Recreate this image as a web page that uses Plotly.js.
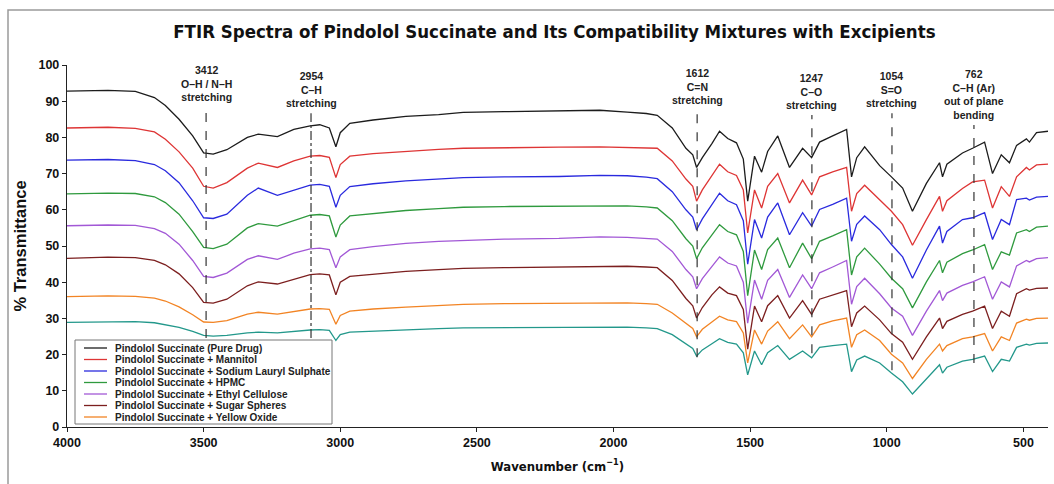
<!DOCTYPE html>
<html>
<head>
<meta charset="utf-8">
<script src="https://cdn.plot.ly/plotly-3.0.1.min.js"></script>
<style>html,body{margin:0;padding:0;background:#fff;}#chart{width:1054px;height:484px;}</style>
</head>
<body>
<div id="chart"></div>
<script>
// ---- data ----
const wavenumber = [4000,3850,3750,3680,3640,3590,3540,3500,3465,3415,3340,3300,3230,3170,3110,3075,3040,3016,3000,2965,2880,2760,2640,2550,2400,2200,2050,1950,1880,1840,1785,1735,1710,1696,1675,1640,1612,1582,1550,1525,1509,1484,1458,1436,1399,1356,1308,1275,1246,1198,1147,1129,1110,1081,1026,983,942,906,855,807,796,780,723,686,642,613,581,551,525,489,478,452,410];

const pureDrug = [92.8,93.0,92.7,91.0,88.8,85.0,80.4,75.7,75.4,76.6,80.0,80.9,80.2,82.2,83.2,83.5,82.6,77.4,81.3,83.9,84.8,85.8,86.3,86.9,87.1,87.3,87.5,87.0,86.6,86.1,82.6,77.0,75.2,71.7,74.4,78.3,81.7,79.7,78.5,74.0,62.4,74.8,70.4,76.1,80.4,71.7,77.0,74.4,78.7,80.4,82.2,69.1,74.4,77.4,72.2,69.1,66.0,59.6,67.3,73.0,69.1,72.6,75.7,77.0,78.7,70.0,75.2,73.0,77.8,79.6,78.7,81.3,81.7];
const mannitol = [82.6,82.8,82.5,81.5,79.5,76.0,71.5,66.5,66.0,67.5,71.5,72.9,71.7,73.5,74.8,75.0,74.5,68.9,72.5,74.8,75.5,76.2,76.7,77.0,77.2,77.3,77.4,77.3,77.1,77.0,73.5,68.5,66.5,62.4,65.5,69.5,72.6,70.5,69.5,65.5,53.6,65.5,60.5,66.5,70.0,61.9,68.2,64.1,69.1,70.5,71.7,59.6,64.5,66.8,62.8,59.6,55.9,50.2,57.3,63.7,59.6,62.5,65.9,67.7,68.2,60.5,66.4,63.7,69.1,71.7,71.0,72.4,72.6];
const sls = [73.7,73.9,73.6,72.5,70.8,67.5,62.5,57.8,57.6,58.8,64.0,66.0,64.0,65.5,66.8,67.0,66.5,60.7,64.0,66.4,67.2,68.0,68.6,68.9,69.1,69.2,69.5,69.4,69.0,68.6,65.0,60.0,58.0,54.5,57.5,61.5,64.6,62.5,61.4,57.0,45.0,57.3,52.2,58.0,61.9,53.1,59.2,55.5,60.1,61.5,63.2,51.3,56.0,58.3,54.5,50.4,47.0,41.1,48.9,55.5,50.8,54.0,57.3,57.8,59.2,51.8,57.3,55.9,62.8,63.2,62.7,63.5,63.7];
const hpmc = [64.4,64.6,64.5,63.6,62.0,58.8,54.0,49.6,49.3,50.5,55.0,56.2,55.5,57.0,58.5,58.7,58.3,52.5,55.8,58.3,59.0,59.8,60.3,60.7,60.9,61.0,61.2,61.1,60.8,60.5,57.0,52.0,50.0,46.5,49.5,53.0,55.9,54.0,53.1,48.5,36.3,48.9,43.5,49.0,52.2,44.0,50.8,46.5,51.3,52.8,54.5,42.0,47.0,49.4,45.0,41.1,38.2,32.9,40.1,46.0,42.6,45.5,47.9,48.9,50.4,43.5,48.4,47.5,53.6,54.5,54.0,55.2,55.5];
const ethylCellulose = [55.6,55.8,55.7,54.8,53.5,50.5,46.0,41.6,41.3,42.5,46.3,47.3,46.3,48.0,49.2,49.4,49.0,44.0,47.0,49.0,49.8,50.7,51.3,51.6,51.9,52.1,52.5,52.4,52.1,51.9,48.5,43.5,41.5,38.2,41.0,44.5,47.0,45.3,44.5,40.0,28.7,40.6,35.3,40.5,43.5,35.8,42.0,38.2,42.6,44.2,46.0,33.9,38.8,41.1,36.8,32.9,30.6,25.3,32.0,37.7,34.9,37.0,39.1,40.1,41.5,35.3,40.1,38.7,44.5,46.0,45.6,46.5,46.8];
const sugarSpheres = [46.6,46.9,46.8,46.0,44.8,42.3,38.5,34.4,34.2,35.3,39.0,40.1,39.5,40.8,42.1,42.3,42.0,36.5,40.0,41.6,42.2,43.0,43.5,43.8,44.0,44.2,44.5,44.4,44.2,44.0,40.5,35.5,33.5,30.1,33.0,36.5,38.7,37.0,36.3,32.5,21.5,33.4,29.1,33.5,36.3,30.1,34.9,31.1,35.3,36.5,37.7,27.7,31.5,33.4,29.6,25.8,23.4,18.7,24.9,30.1,27.2,29.2,31.1,32.0,33.4,27.2,32.0,30.6,36.8,38.2,37.8,38.3,38.4];
const yellowOxide = [36.0,36.2,36.1,35.6,34.8,33.2,31.0,29.0,28.9,29.4,31.2,31.7,31.2,32.0,32.6,32.7,32.5,28.4,30.8,32.0,32.6,33.1,33.6,33.9,34.1,34.2,34.4,34.3,34.1,33.9,31.5,28.5,27.2,24.9,27.0,29.0,30.6,29.6,29.1,26.0,17.7,26.8,22.9,26.5,29.1,24.4,28.2,24.9,28.2,29.3,30.1,22.0,25.5,26.8,23.9,20.1,17.7,13.4,18.7,22.9,21.0,22.5,24.4,24.9,25.8,21.0,24.9,23.9,28.7,29.8,29.5,30.0,30.1];
const eighthSample = [28.9,29.0,29.1,28.8,28.3,27.5,26.4,25.3,25.1,25.3,26.0,26.2,26.0,26.5,26.8,26.9,26.7,23.9,25.5,26.2,26.5,26.9,27.2,27.4,27.5,27.6,27.7,27.6,27.4,27.2,25.5,22.8,21.7,19.6,21.3,23.0,24.4,23.4,22.9,20.5,14.4,21.0,17.2,20.5,22.5,18.7,21.0,19.1,22.0,22.5,22.9,15.3,18.5,19.6,17.7,14.9,12.5,9.1,13.4,17.2,14.9,16.5,18.2,18.7,19.6,15.3,18.7,18.2,22.0,22.9,22.6,23.1,23.2];

const seriesNames = [
  "Pindolol Succinate (Pure Drug)",
  "Pindolol Succinate + Mannitol",
  "Pindolol Succinate + Sodium Lauryl Sulphate",
  "Pindolol Succinate + HPMC",
  "Pindolol Succinate + Ethyl Cellulose",
  "Pindolol Succinate + Sugar Spheres",
  "Pindolol Succinate + Yellow Oxide",
  "Pindolol Succinate (8th sample)"
];
const seriesValues = [pureDrug, mannitol, sls, hpmc, ethylCellulose, sugarSpheres, yellowOxide, eighthSample];

// band annotations: label text and the wavenumber where the marker line is drawn
const bandLabels = [
  "3412<br>O\u2013H / N\u2013H<br>stretching",
  "2954<br>C\u2013H<br>stretching",
  "1612<br>C=N<br>stretching",
  "1247<br>C\u2013O<br>stretching",
  "1054<br>S=O<br>stretching",
  "762<br>C\u2013H (Ar)<br>out of plane<br>bending"
];
const bandLineX = [3491, 3107, 1694, 1274, 981, 681];

const xTicks = [4000, 3500, 3000, 2500, 2000, 1500, 1000, 500];

// ---- styles ----
const colors = ["#1c1c1c", "#de3535", "#2a2ade", "#2f9a3e", "#a258d6", "#7c1f1f", "#f28424", "#23988b"];
const lineTop = [88.4, 86.7, 87.6, 86.2, 86.7, 83.4];
const lineBottom = [24.6, 24.6, 19.3, 20.4, 15.7, 17.7];
const lineDash = ["dash", "dashdot", "dash", "dash", "dash", "dash"];
const narrowFont = "Liberation Sans Narrow, Arial Narrow, DejaVu Sans Condensed, sans-serif";
const sansFont = "Liberation Sans, Arial, sans-serif";

const L = 67, R = 6, T = 65, B = 57, W = 1054, H = 484;
const PW = W - L - R, PH = H - T - B;
const px = X => (X - L) / PW;
const py = Y => (H - B - Y) / PH;

const traces = seriesValues.map((vals, i) => ({
  type: "scatter", mode: "lines",
  x: wavenumber, y: vals,
  name: seriesNames[i],
  line: {color: colors[i], width: 1.3},
  showlegend: false
}));

const shapes = [];
const annotations = [];

bandLineX.forEach((wx, i) => {
  shapes.push({type: "line", xref: "x", yref: "y", x0: wx, x1: wx, y0: lineBottom[i], y1: lineTop[i],
    line: {color: "#333", width: 1.2, dash: lineDash[i]}});
  annotations.push({xref: "x", yref: "y", x: wx, y: lineTop[i] + 0.6, yanchor: "bottom", xanchor: "center",
    text: "<b>" + bandLabels[i] + "</b>", showarrow: false, align: "center",
    font: {family: sansFont, size: 10.5, color: "#222"}});
});

// custom legend (first seven series, as in the reference)
shapes.push({type: "rect", xref: "paper", yref: "paper", x0: px(75), x1: px(332), y0: py(424), y1: py(340),
  fillcolor: "rgba(255,255,255,0.95)", line: {color: "#777", width: 1}});
for (let i = 0; i < 7; i++) {
  const rowY = 348 + i * 11.5;
  shapes.push({type: "line", xref: "paper", yref: "paper", x0: px(84), x1: px(107), y0: py(rowY), y1: py(rowY),
    line: {color: colors[i], width: 1.3}});
  annotations.push({xref: "paper", yref: "paper", x: px(113), y: py(rowY), xanchor: "left", yanchor: "middle",
    text: "<b>" + seriesNames[i] + "</b>", showarrow: false,
    font: {family: sansFont, size: 10, color: "#222"}});
}

// outer frame
shapes.push({type: "rect", xref: "paper", yref: "paper", x0: px(8), x1: px(1070), y0: py(500), y1: py(10),
  line: {color: "#9a9a9a", width: 1.5}, fillcolor: "rgba(0,0,0,0)", layer: "below"});

const layout = {
  width: W, height: H,
  margin: {l: L, r: R, t: T, b: B},
  paper_bgcolor: "#fff", plot_bgcolor: "#fff",
  title: {text: "<b>FTIR Spectra of Pindolol Succinate and Its Compatibility Mixtures with Excipients</b>",
    x: 0.526, xanchor: "center", y: 1 - 32 / H, yanchor: "middle",
    font: {family: narrowFont, size: 18.5, color: "#111"}},
  xaxis: {
    range: [4000, 410], tickvals: xTicks, ticktext: xTicks.map(String),
    showgrid: false, zeroline: false, showline: true, linecolor: "#222", linewidth: 1.2,
    ticks: "outside", ticklen: 4, tickcolor: "#222",
    tickfont: {family: sansFont, size: 12.5, color: "#111", weight: "bold"},
    title: {text: "<b>Wavenumber (cm<sup>\u22121</sup>)</b>", standoff: 12,
      font: {family: narrowFont, size: 13, color: "#111"}}
  },
  yaxis: {
    range: [0, 100], dtick: 10, tick0: 0,
    showgrid: false, zeroline: false, showline: true, linecolor: "#222", linewidth: 1.2,
    ticks: "outside", ticklen: 4, tickcolor: "#222",
    tickfont: {family: sansFont, size: 12.5, color: "#111", weight: "bold"},
    title: {text: "<b>% Transmittance</b>", standoff: 7,
      font: {family: sansFont, size: 16.5, color: "#111"}}
  },
  shapes: shapes,
  annotations: annotations,
  showlegend: false
};

Plotly.newPlot("chart", traces, layout, {displayModeBar: false, staticPlot: true});
</script>
</body>
</html>
